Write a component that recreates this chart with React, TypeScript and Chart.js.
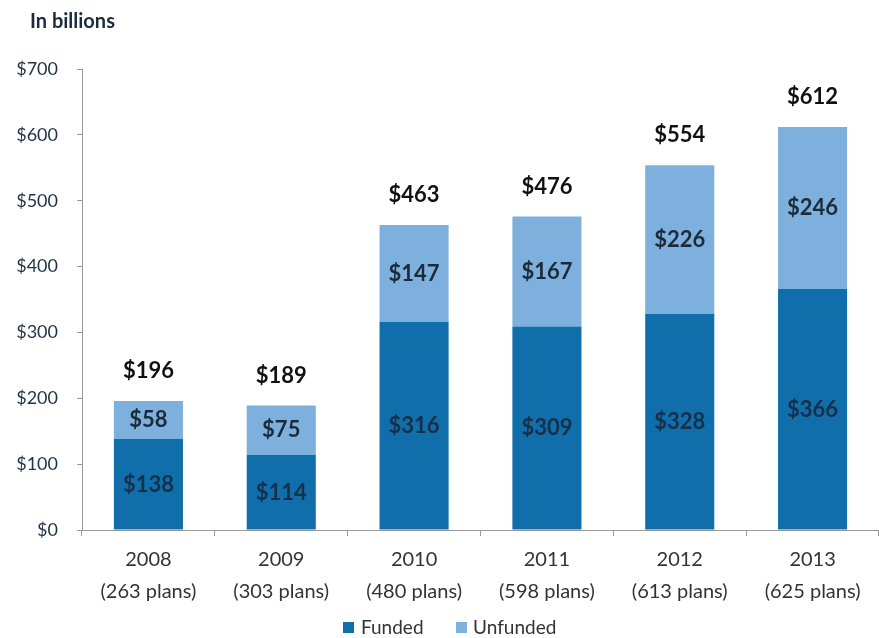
import React, { useEffect, useRef } from "react";
import { Chart, registerables } from "chart.js";

Chart.register(...registerables);

const years = ["2008", "2009", "2010", "2011", "2012", "2013"];
const planCounts = ["(263 plans)", "(303 plans)", "(480 plans)", "(598 plans)", "(613 plans)", "(625 plans)"];
const funded = [138, 114, 316, 309, 328, 366];
const unfunded = [58, 75, 147, 167, 226, 246];
const totals = [196, 189, 463, 476, 554, 612];
const yTicks = [0, 100, 200, 300, 400, 500, 600, 700];
const legendLabels = ["Funded", "Unfunded"];

const FUNDED_COLOR = "#106eab";
const UNFUNDED_COLOR = "#7db0dc";
const FONT = "Lato, 'Open Sans', sans-serif";

const labelPlugin = {
  id: "customLabels",
  afterDatasetsDraw(chart: any) {
    const ctx = chart.ctx;
    ctx.save();
    ctx.textAlign = "center";
    ctx.textBaseline = "middle";
    ctx.font = `bold 22px ${FONT}`;
    const yScale = chart.scales.y;
    const m0 = chart.getDatasetMeta(0);
    const m1 = chart.getDatasetMeta(1);
    m0.data.forEach((bar: any, i: number) => {
      ctx.fillStyle = "#17304a";
      const c0 = yScale.getPixelForValue(funded[i] / 2);
      ctx.fillText("$" + funded[i], bar.x, c0);
      ctx.fillStyle = "#1b2b3b";
      const c1 = yScale.getPixelForValue(funded[i] + unfunded[i] / 2);
      ctx.fillText("$" + unfunded[i], m1.data[i].x, c1);
      ctx.fillStyle = "#111";
      const top = yScale.getPixelForValue(totals[i]);
      ctx.fillText("$" + totals[i], bar.x, top - 30);
    });
    // title
    ctx.textAlign = "left";
    ctx.font = `bold 20px ${FONT}`;
    ctx.fillStyle = "#1b2b3c";
    ctx.fillText("In billions", 30, 22);
    // legend
    ctx.font = `19px ${FONT}`;
    ctx.fillStyle = FUNDED_COLOR;
    ctx.fillRect(343, 622, 11, 11);
    ctx.fillStyle = "#333";
    ctx.fillText(legendLabels[0], 361, 628);
    ctx.fillStyle = UNFUNDED_COLOR;
    ctx.fillRect(456, 622, 11, 11);
    ctx.fillStyle = "#333";
    ctx.fillText(legendLabels[1], 473, 628);
    ctx.restore();
  },
};

export default function App() {
  const ref = useRef<HTMLCanvasElement>(null);
  useEffect(() => {
    if (!ref.current) return;
    const chart = new Chart(ref.current, {
      type: "bar",
      data: {
        labels: years.map((y, i) => [y, planCounts[i]]),
        datasets: [
          { label: legendLabels[0], data: funded, backgroundColor: FUNDED_COLOR, categoryPercentage: 1, barPercentage: 0.52 },
          { label: legendLabels[1], data: unfunded, backgroundColor: UNFUNDED_COLOR, categoryPercentage: 1, barPercentage: 0.52 },
        ],
      },
      options: {
        animation: false,
        responsive: false,
        maintainAspectRatio: false,
        layout: { padding: { top: 69, left: 0, right: -7, bottom: 0 } },
        plugins: { legend: { display: false }, tooltip: { enabled: false }, title: { display: false } },
        scales: {
          x: {
            stacked: true,
            grid: { display: true, drawOnChartArea: false, offset: true, tickLength: 6, color: "#999" },
            border: { color: "#999" },
            ticks: { color: "#333", font: { family: FONT, size: 20, lineHeight: 1.6 }, padding: 8, maxRotation: 0 },
            afterFit(scale: any) {
              scale.height = 108;
            },
          },
          y: {
            stacked: true,
            min: 0,
            max: 700,
            afterBuildTicks(scale: any) {
              scale.ticks = yTicks.map((v) => ({ value: v }));
            },
            grid: { display: true, drawOnChartArea: false, tickLength: 5, color: "#999" },
            border: { color: "#999" },
            ticks: {
              color: "#1f3346",
              font: { family: FONT, size: 18 },
              padding: 19,
              callback: (v: any) => "$" + v,
            },
            afterFit(scale: any) {
              scale.width = 82;
            },
          },
        },
      },
      plugins: [labelPlugin],
    });
    return () => chart.destroy();
  }, []);
  return (
    <div style={{ position: "fixed", left: 0, top: 0, width: 879, height: 638, background: "#fff" }}>
      <canvas ref={ref} width={879} height={638} style={{ width: 879, height: 638 }} />
    </div>
  );
}
